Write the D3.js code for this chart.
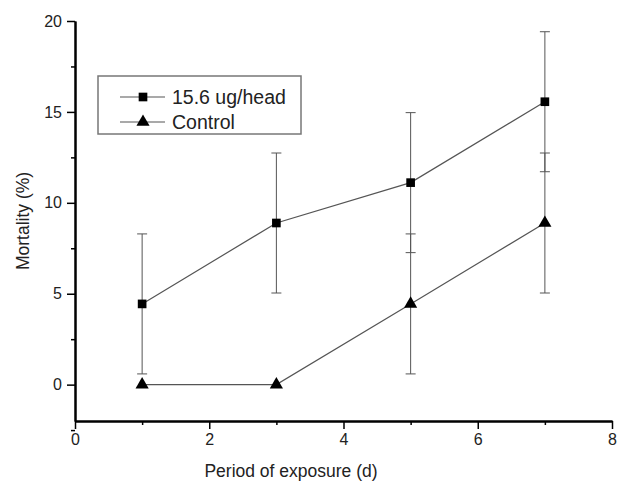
<!DOCTYPE html>
<html>
<head>
<meta charset="utf-8">
<script src="https://cdn.jsdelivr.net/npm/d3@7/dist/d3.min.js"></script>
<style>
  body { margin: 0; background: #fff; }
  text { font-family: "Liberation Sans", Arial, sans-serif; }
</style>
</head>
<body>
<div id="chart"></div>
<script>
const days = [1, 3, 5, 7];
const treatMean = [4.44, 8.89, 11.11, 15.56];
const treatErr = [3.85, 3.85, 3.85, 3.85];
const controlMean = [0, 0, 4.44, 8.89];
const controlErr = [0, 0, 3.85, 3.85];
const seriesNames = [`15.6 ug/head`, `Control`];
const xTicks = [0, 2, 4, 6, 8];
const xMinor = [1, 3, 5, 7];
const yTicks = [0, 5, 10, 15, 20];
const yMinor = [-2.5, 2.5, 7.5, 12.5, 17.5];

const width = 618;
const height = 483;
const margin = { top: 21, right: 6, bottom: 62, left: 75 };

const svg = d3.select(`#chart`)
  .append(`svg`)
  .attr(`width`, width)
  .attr(`height`, height);

const xScale = d3.scaleLinear()
  .domain([0, 8])
  .range([margin.left, width - margin.right]);
const yScale = d3.scaleLinear()
  .domain([-2, 20])
  .range([height - margin.bottom, margin.top]);

const series = [
  { name: seriesNames[0], mean: treatMean, err: treatErr, symbol: d3.symbolSquare, size: 75 },
  { name: seriesNames[1], mean: controlMean, err: controlErr, symbol: d3.symbolTriangle, size: 75 },
];

// error bars
series.forEach((s) => {
  const g = svg.append(`g`);
  days.forEach((d, i) => {
    if (s.err[i] === 0) return;
    const x = xScale(d);
    const y0 = yScale(s.mean[i] - s.err[i]);
    const y1 = yScale(s.mean[i] + s.err[i]);
    g.append(`line`).attr(`x1`, x).attr(`x2`, x).attr(`y1`, y0).attr(`y2`, y1)
      .attr(`stroke`, `#555`).attr(`stroke-width`, 1);
    [y0, y1].forEach((yy) => {
      g.append(`line`).attr(`x1`, x - 5).attr(`x2`, x + 5).attr(`y1`, yy).attr(`y2`, yy)
        .attr(`stroke`, `#555`).attr(`stroke-width`, 1);
    });
  });
});

// lines + markers
const line = d3.line()
  .x((d) => xScale(d[0]))
  .y((d) => yScale(d[1]));

series.forEach((s) => {
  const pts = days.map((d, i) => [d, s.mean[i]]);
  svg.append(`path`)
    .attr(`d`, line(pts))
    .attr(`fill`, `none`)
    .attr(`stroke`, `#555`)
    .attr(`stroke-width`, 1.2);
  svg.selectAll(null)
    .data(pts)
    .enter()
    .append(`path`)
    .attr(`d`, d3.symbol().type(s.symbol).size(s.size))
    .attr(`transform`, (d) => `translate(${xScale(d[0])},${yScale(d[1])})`)
    .attr(`fill`, `#000`);
});

// axes
const xAxis = svg.append(`g`)
  .attr(`transform`, `translate(0, ${height - margin.bottom})`)
  .call(d3.axisBottom(xScale).tickValues(xTicks).tickSize(8).tickPadding(5).tickSizeOuter(0));
const xAxisMinor = svg.append(`g`)
  .attr(`transform`, `translate(0, ${height - margin.bottom})`)
  .call(d3.axisBottom(xScale).tickValues(xMinor).tickSize(4).tickFormat(``).tickSizeOuter(0));
const yAxis = svg.append(`g`)
  .attr(`transform`, `translate(${margin.left}, 0)`)
  .call(d3.axisLeft(yScale).tickValues(yTicks).tickSize(8).tickPadding(5).tickSizeOuter(0));
const yAxisMinor = svg.append(`g`)
  .attr(`transform`, `translate(${margin.left}, 0)`)
  .call(d3.axisLeft(yScale).tickValues(yMinor).tickSize(4).tickFormat(``).tickSizeOuter(0));

[xAxis, xAxisMinor, yAxis, yAxisMinor].forEach((a) => {
  a.select(`.domain`).attr(`stroke`, `#000`).attr(`stroke-width`, 2);
  a.selectAll(`.tick line`).attr(`stroke`, `#000`).attr(`stroke-width`, 1.5);
  a.selectAll(`.tick text`)
    .attr(`fill`, `#222`)
    .style(`font-size`, `16px`)
    .style(`font-family`, `"Liberation Sans", Arial, sans-serif`);
});

// axis titles
svg.append(`text`)
  .attr(`x`, 291)
  .attr(`y`, 477)
  .attr(`text-anchor`, `middle`)
  .style(`font-size`, `17.5px`)
  .attr(`fill`, `#222`)
  .text(`Period of exposure (d)`);

svg.append(`text`)
  .attr(`transform`, `translate(29, ${(yScale(-2) + yScale(20)) / 2}) rotate(-90)`)
  .attr(`text-anchor`, `middle`)
  .style(`font-size`, `17.5px`)
  .attr(`fill`, `#222`)
  .text(`Mortality (%)`);

// legend
const legend = svg.append(`g`);
legend.append(`rect`)
  .attr(`x`, 98).attr(`y`, 76).attr(`width`, 203).attr(`height`, 58)
  .attr(`fill`, `#fff`).attr(`stroke`, `#777`).attr(`stroke-width`, 1.5);
series.forEach((s, i) => {
  const cy = 97 + i * 25;
  legend.append(`line`)
    .attr(`x1`, 120).attr(`x2`, 165).attr(`y1`, cy).attr(`y2`, cy)
    .attr(`stroke`, `#555`).attr(`stroke-width`, 1.2);
  legend.append(`path`)
    .attr(`d`, d3.symbol().type(s.symbol).size(s.size))
    .attr(`transform`, `translate(143, ${cy})`)
    .attr(`fill`, `#000`);
  legend.append(`text`)
    .attr(`x`, 172).attr(`y`, cy + 7)
    .style(`font-size`, `19.5px`)
    .attr(`fill`, `#222`)
    .text(s.name);
});
</script>
</body>
</html>
